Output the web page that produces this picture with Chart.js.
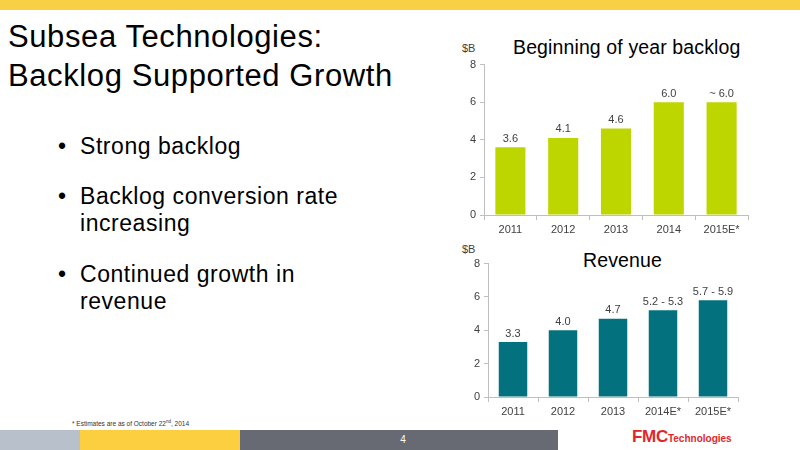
<!DOCTYPE html>
<html>
<head>
<meta charset="utf-8">
<script src="https://cdn.jsdelivr.net/npm/chart.js@4/dist/chart.umd.min.js"></script>
<style>
  html, body { margin:0; padding:0; }
  body { width:800px; height:450px; position:relative; overflow:hidden; background:#fff;
         font-family:"Liberation Sans", Arial, Helvetica, sans-serif; color:#000; }
  .abs { position:absolute; white-space:nowrap; }
  #topband { left:0; top:0; width:800px; height:10px; background:#F9CF46; }
  #title { left:8px; top:17px; font-size:31px; line-height:39px; letter-spacing:0.6px; }
  .bullet { position:absolute; left:58px; font-size:23px; line-height:27px; letter-spacing:0.55px; }
  .bullet span.dot { position:absolute; left:0; }
  .bullet div.txt { margin-left:22px; white-space:nowrap; }
  .ctitle { font-size:19.5px; letter-spacing:0.12px; color:#000; }
  .unit { font-size:11px; color:#404040; }
  canvas { position:absolute; }
  #foot { left:72px; top:419px; font-size:6.5px; color:#333; }
  #foot sup { font-size:4.5px; }
  .fb { position:absolute; top:430px; height:20px; }
  #pagenum { left:244px; top:430px; width:318px; height:20px; line-height:20px; text-align:center; color:#fff; font-size:10px; }
  #logo { left:632px; top:428px; color:#E3262B; font-weight:bold; line-height:18px; }
  #logo .big { font-size:17px; font-weight:900; letter-spacing:-0.3px; }
  #logo .small { font-size:10px; font-family:"Liberation Sans Narrow", "Liberation Sans", Arial, sans-serif; }
</style>
</head>
<body>
<div id="topband" class="abs"></div>
<div id="title" class="abs">Subsea Technologies:<br>Backlog Supported Growth</div>

<div class="bullet" style="top:133px;"><span class="dot">•</span><div class="txt">Strong backlog</div></div>
<div class="bullet" style="top:183px;"><span class="dot">•</span><div class="txt">Backlog conversion rate<br>increasing</div></div>
<div class="bullet" style="top:261px;"><span class="dot">•</span><div class="txt">Continued growth in<br>revenue</div></div>

<div class="abs unit" style="left:462px; top:42px;">$B</div>
<div class="abs ctitle" style="left:513px; top:36px;">Beginning of year backlog</div>
<canvas id="c1" width="320" height="186" style="left:440px; top:54px;"></canvas>

<div class="abs unit" style="left:462px; top:243px;">$B</div>
<div class="abs ctitle" style="left:583px; top:249px;">Revenue</div>
<canvas id="c2" width="320" height="169" style="left:440px; top:253px;"></canvas>

<div id="foot" class="abs">* Estimates are as of October 22<sup>nd</sup>, 2014</div>
<div class="fb" style="left:0; width:80px; background:#B8C1CB;"></div>
<div class="fb" style="left:80px; width:160px; background:#FBCF40;"></div>
<div class="fb" style="left:240px; width:318px; background:#676A72;"></div>
<div id="pagenum" class="abs">4</div>
<div id="logo" class="abs"><span class="big">FMC</span><span class="small">Technologies</span></div>

<script>
// ---- data ----
const backlogYears = ['2011', '2012', '2013', '2014', '2015E*'];
const backlogValues = [3.6, 4.1, 4.6, 6.0, 6.0];
const backlogLabels = ['3.6', '4.1', '4.6', '6.0', '~ 6.0'];

const revenueYears = ['2011', '2012', '2013', '2014E*', '2015E*'];
const revenueValues = [3.3, 4.0, 4.7, 5.2, 5.8];
const revenueLabels = ['3.3', '4.0', '4.7', '5.2 - 5.3', '5.7 - 5.9'];

const yTickValues = [0, 2, 4, 6, 8];

// ---- drawing ----
const FONT = '"Liberation Sans", Arial, Helvetica, sans-serif';
const AXIS = '#BFBFBF';
const TEXT = '#404040';

const valueLabels = {
  id: 'valueLabels',
  afterDatasetsDraw(chart, args, opts) {
    const ctx = chart.ctx;
    const meta = chart.getDatasetMeta(0);
    ctx.save();
    ctx.font = '11px ' + FONT;
    ctx.fillStyle = TEXT;
    ctx.textAlign = 'center';
    ctx.textBaseline = 'bottom';
    meta.data.forEach((bar, i) => ctx.fillText(opts.texts[i], bar.x, bar.y - 3));
    ctx.restore();
  }
};

function makeChart(id, labels, values, texts, color, yWidth, padRight) {
  return new Chart(document.getElementById(id), {
    type: 'bar',
    data: {
      labels: labels,
      datasets: [{ data: values, backgroundColor: color, borderWidth: 0,
                   categoryPercentage: 1.0, barPercentage: 0.57 }]
    },
    options: {
      responsive: false,
      animation: false,
      layout: { padding: { top: 10, right: padRight, left: 0, bottom: 0 } },
      plugins: {
        legend: { display: false },
        tooltip: { enabled: false },
        title: { display: false },
        valueLabels: { texts: texts }
      },
      scales: {
        x: {
          grid: { display: true, drawOnChartArea: false, drawTicks: true, tickLength: 5, color: AXIS, offset: true },
          border: { color: AXIS, width: 1 },
          ticks: { color: TEXT, font: { size: 11, family: FONT }, padding: 3, maxRotation: 0, autoSkip: false },
          afterFit(s) { s.height = 25; }
        },
        y: {
          min: 0, max: 8,
          afterBuildTicks(s) { s.ticks = yTickValues.map(v => ({ value: v })); },
          grid: { display: true, drawOnChartArea: false, drawTicks: true, tickLength: 4, color: AXIS },
          border: { color: AXIS, width: 1 },
          ticks: { color: TEXT, font: { size: 11, family: FONT }, padding: 4 },
          afterFit(s) { s.width = yWidth; }
        }
      }
    },
    plugins: [valueLabels]
  });
}

makeChart('c1', backlogYears, backlogValues, backlogLabels, '#BED600', 44, 12);
makeChart('c2', revenueYears, revenueValues, revenueLabels, '#03717E', 48, 22);
</script>
</body>
</html>
